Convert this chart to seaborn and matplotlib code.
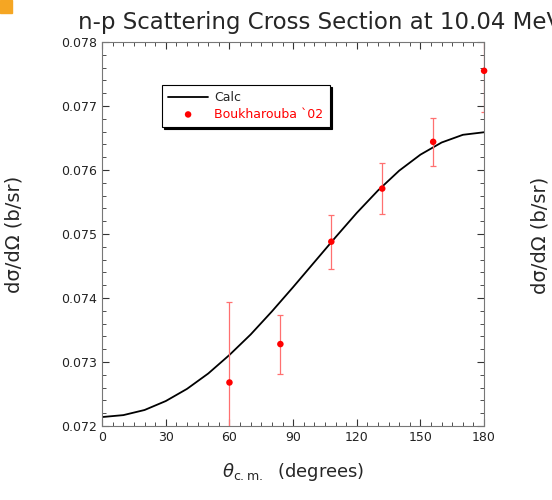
import seaborn as sns
import matplotlib.pyplot as plt
from matplotlib.ticker import MultipleLocator
import matplotlib.patches as mpatches

# calculated curve
calc_theta = [0, 10, 20, 30, 40, 50, 60, 70, 80, 90,
              100, 110, 120, 130, 140, 150, 160, 170, 180]
calc_xs = [0.07214, 0.07217, 0.07225, 0.07239, 0.07258, 0.07282, 0.07311,
           0.07343, 0.07379, 0.07417, 0.07456, 0.07495, 0.07533, 0.07568,
           0.07599, 0.07624, 0.07643, 0.07655, 0.07659]

# Boukharouba '02 data
exp_theta = [60, 84, 108, 132, 156, 180]
exp_xs = [0.07268, 0.07328, 0.07488, 0.07571, 0.07644, 0.07755]
exp_err = [0.00125, 0.00046, 0.00042, 0.00040, 0.00038, 0.00065]

sns.set_style("ticks")
plt.rcParams['font.family'] = ['DejaVu Sans']

fig = plt.figure(figsize=(5.52, 5.0), dpi=100)
ax = fig.add_axes([0.185, 0.148, 0.692, 0.768])

sns.lineplot(x=calc_theta, y=calc_xs, color="black", linewidth=1.3,
             label="Calc", ax=ax)
ax.errorbar(exp_theta, exp_xs, yerr=exp_err, fmt="none", ecolor="#ff7070",
            elinewidth=0.9, capsize=2.5, capthick=0.9, zorder=2)
sns.scatterplot(x=exp_theta, y=exp_xs, color="red", s=22, edgecolor="none",
                label="Boukharouba `02", ax=ax, zorder=3, clip_on=False)

ax.set_xlim(0, 180)
ax.set_ylim(0.072, 0.078)
ax.xaxis.set_major_locator(MultipleLocator(30))
ax.xaxis.set_minor_locator(MultipleLocator(5))
ax.yaxis.set_major_locator(MultipleLocator(0.001))
ax.yaxis.set_minor_locator(MultipleLocator(0.0002))
ax.yaxis.set_major_formatter(plt.FormatStrFormatter("%.3f"))
ax.tick_params(which="both", direction="in", top=True, right=True,
               labelsize=9, colors="#333333", labelcolor="#222222")
ax.tick_params(which="major", length=5)
ax.tick_params(which="minor", length=3)
for s in ax.spines.values():
    s.set_color("#777777")
    s.set_linewidth(0.8)

ax.set_xlabel(r"$\theta_{\rm c.m.}$  (degrees)", fontsize=13, labelpad=12)
ax.set_ylabel("dσ/dΩ (b/sr)", fontsize=14)
ax.yaxis.set_label_coords(-0.205, 0.5)
fig.text(0.978, 0.53, "dσ/dΩ (b/sr)", fontsize=14,
         rotation=90, va="center", ha="center")

# the title runs off the right edge, as in the original
fig.text(0.142, 0.955, "n-p Scattering Cross Section at 10.04 MeV",
         fontsize=16.5, ha="left", va="center")

leg = ax.legend(loc="upper left", bbox_to_anchor=(0.14, 0.905), fontsize=9,
                fancybox=False, edgecolor="black", framealpha=1,
                borderpad=0.5, handlelength=3.2, handletextpad=0.5,
                labelspacing=0.3,
                shadow={"color": "black", "alpha": 1, "ox": 1.6, "oy": -1.6})
leg.get_frame().set_linewidth(0.8)
leg.get_texts()[1].set_color("red")

fig.patches.append(mpatches.Rectangle((0, 0.975), 0.022, 0.025,
                                      transform=fig.transFigure,
                                      color="#f5a623"))

fig.savefig("out.png", dpi=100)
